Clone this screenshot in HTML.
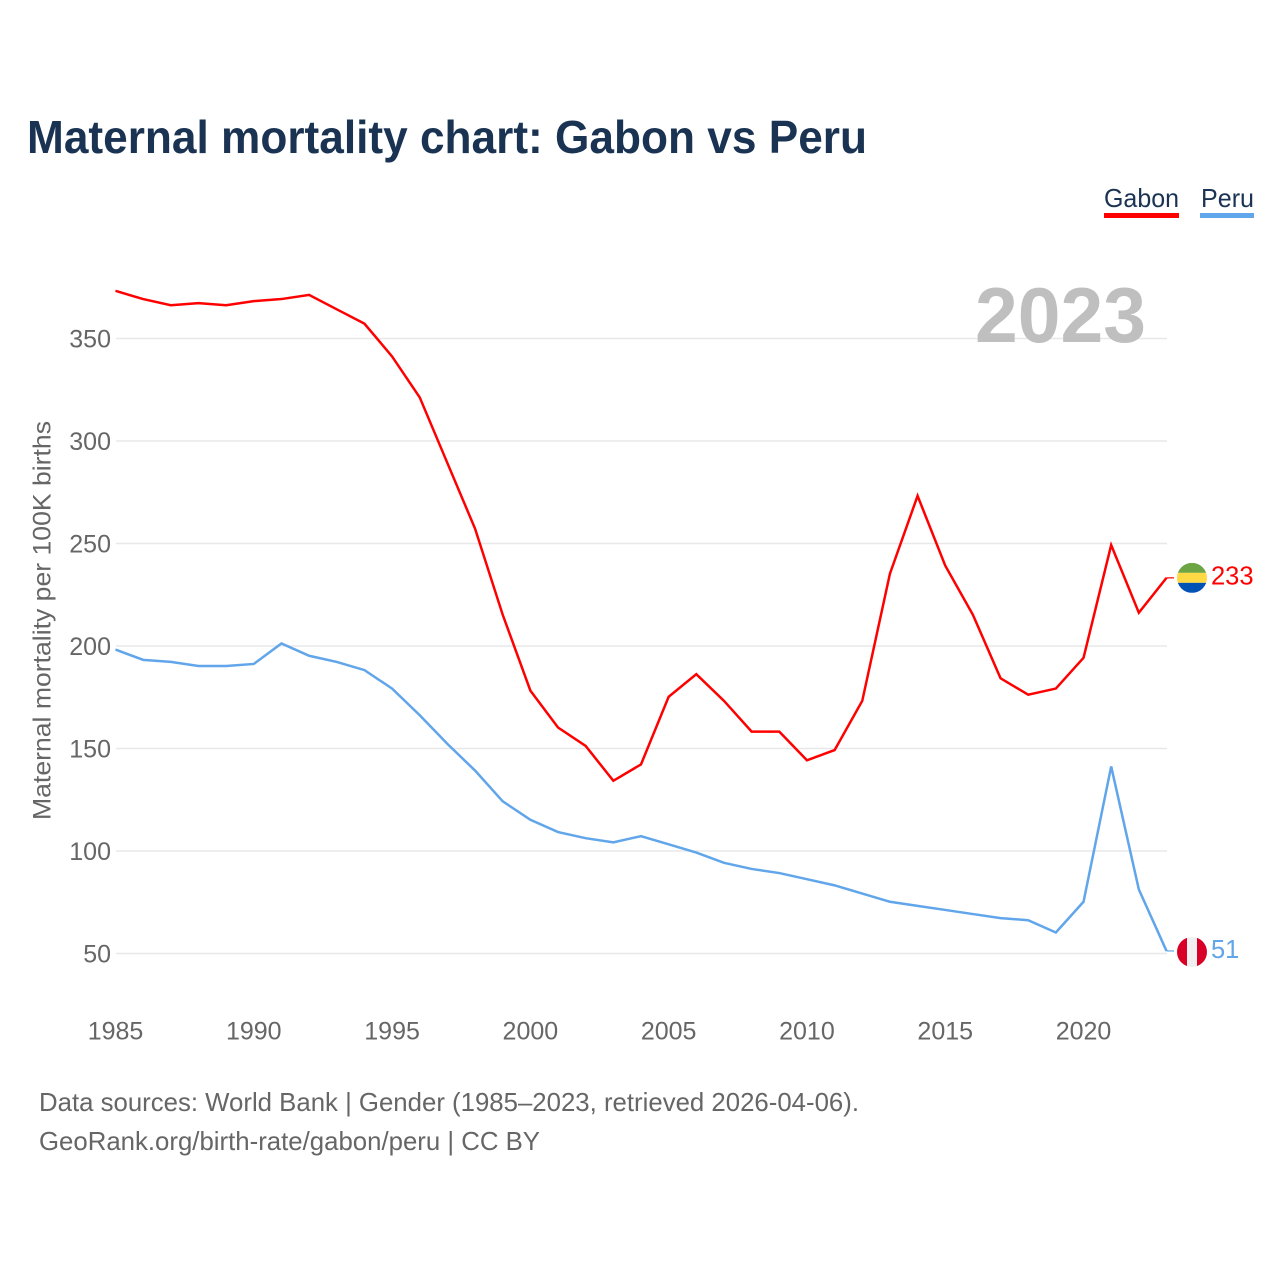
<!DOCTYPE html>
<html lang="en">
<head>
<meta charset="utf-8">
<title>Maternal mortality chart: Gabon vs Peru</title>
<style>
html,body{margin:0;padding:0;background:#fff;}
svg{display:block;font-family:"Liberation Sans",sans-serif;}
</style>
</head>
<body>
<svg id="chart" width="1280" height="1280" viewBox="0 0 1280 1280" xmlns="http://www.w3.org/2000/svg">
  <defs>
    <clipPath id="flag-clip-gabon"><circle cx="1192" cy="0" r="15"></circle></clipPath>
    <clipPath id="flag-clip-peru"><circle cx="1192" cy="0" r="15"></circle></clipPath>
  </defs>
  <rect width="1280" height="1280" fill="#ffffff"></rect>
  <text x="27" y="153" font-size="46" font-weight="700" fill="#1a3353" textLength="840" lengthAdjust="spacingAndGlyphs">Maternal mortality chart: Gabon vs Peru</text>

  <text x="1104" y="207" font-size="26" fill="#1a3353" textLength="75" lengthAdjust="spacingAndGlyphs">Gabon</text>
  <rect x="1104" y="213" width="75" height="5" fill="#ff0000"></rect>
  <text x="1201" y="207" font-size="26" fill="#1a3353" textLength="53" lengthAdjust="spacingAndGlyphs">Peru</text>
  <rect x="1200" y="213" width="54" height="5" fill="#61a5ea"></rect>

  <g id="grid"></g>
  <text x="975" y="342" font-size="78" font-weight="700" fill="#bfbfbf" textLength="171" lengthAdjust="spacingAndGlyphs">2023</text>
  <g id="y-ticks"></g>
  <g id="x-ticks"></g>
  <text transform="translate(50.5,620.5) rotate(-90)" text-anchor="middle" font-size="25" fill="#666666" textLength="399" lengthAdjust="spacingAndGlyphs">Maternal mortality per 100K births</text>
  <g id="series"></g>
  <g id="ends"></g>

  <text x="39" y="1111" font-size="26" fill="#666666" textLength="820" lengthAdjust="spacingAndGlyphs">Data sources: World Bank | Gender (1985–2023, retrieved 2026-04-06).</text>
  <text x="39" y="1150" font-size="26" fill="#666666" textLength="501" lengthAdjust="spacingAndGlyphs">GeoRank.org/birth-rate/gabon/peru | CC BY</text>
</svg>
<script>
var years = [1985,1986,1987,1988,1989,1990,1991,1992,1993,1994,1995,1996,1997,1998,1999,2000,2001,2002,2003,2004,2005,2006,2007,2008,2009,2010,2011,2012,2013,2014,2015,2016,2017,2018,2019,2020,2021,2022,2023];
var gabonValues = [373,369,366,367,366,368,369,371,364,357,341,321,289,257,215,178,160,151,134,142,175,186,173,158,158,144,149,173,235,273,239,215,184,176,179,194,249,216,233];
var peruValues = [198,193,192,190,190,191,201,195,192,188,179,166,152,139,124,115,109,106,104,107,103,99,94,91,89,86,83,79,75,73,71,69,67,66,60,75,141,81,51];
var yTickValues = [50,100,150,200,250,300,350];
var xTickValues = [1985,1990,1995,2000,2005,2010,2015,2020];

var NS = 'http://www.w3.org/2000/svg';
function xScale(year) { return 115.5 + (year - 1985) * (1166.5 - 115.5) / 38; }
function yScale(value) { return 953.5 - (value - 50) * 2.05; }
function make(tag, attrs, parent) {
  var el = document.createElementNS(NS, tag);
  for (var k in attrs) el.setAttribute(k, attrs[k]);
  parent.appendChild(el);
  return el;
}

var gridGroup = document.getElementById('grid');
var yTickGroup = document.getElementById('y-ticks');
yTickValues.forEach(function (v) {
  var line = make('line', {x1: 116, x2: 1167, y1: yScale(v), y2: yScale(v), stroke: '#e8e8e8', 'stroke-width': 1.5}, gridGroup);
  
  
  var label = make('text', {x: 111, y: yScale(v) + 9, 'text-anchor': 'end', 'font-size': 25, fill: '#666666'}, yTickGroup);
  label.textContent = v;
  
  
});

var xTickGroup = document.getElementById('x-ticks');
xTickValues.forEach(function (y) {
  var label = make('text', {x: xScale(y), y: 1039.5, 'text-anchor': 'middle', 'font-size': 25, fill: '#666666'}, xTickGroup);
  label.textContent = y;
  
  
});

function seriesPoints(values) {
  return values.map(function (v, i) {
    return xScale(years[i]).toFixed(2) + ',' + (yScale(v) - 0.5).toFixed(2);
  }).join(' ');
}

var seriesGroup = document.getElementById('series');
var gabonLine = make('polyline', {points: seriesPoints(gabonValues), fill: 'none', stroke: '#ff0000', 'stroke-width': 2.5, 'stroke-linejoin': 'miter'}, seriesGroup);


var peruLine = make('polyline', {points: seriesPoints(peruValues), fill: 'none', stroke: '#61a5ea', 'stroke-width': 2.5, 'stroke-linejoin': 'miter'}, seriesGroup);



var endsGroup = document.getElementById('ends');
var gabonLast = gabonValues[gabonValues.length - 1];
var peruLast = peruValues[peruValues.length - 1];
var gy = yScale(gabonLast) - 0.5;
var py = yScale(peruLast) - 0.5;

var gabonLead = make('line', {x1: 1166.5, x2: 1174, y1: gy, y2: gy, stroke: '#ff0000', 'stroke-width': 1.2}, endsGroup);


var peruLead = make('line', {x1: 1166.5, x2: 1174, y1: py, y2: py, stroke: '#61a5ea', 'stroke-width': 1.2}, endsGroup);



document.querySelector('#flag-clip-gabon circle').setAttribute('cy', gy);
document.querySelector('#flag-clip-peru circle').setAttribute('cy', py + 1);

var gabonFlag = make('g', {'clip-path': 'url(#flag-clip-gabon)'}, endsGroup);


make('rect', {x: 1177, y: gy - 15, width: 30, height: 10, fill: '#6da544'}, gabonFlag);
make('rect', {x: 1177, y: gy - 5, width: 30, height: 10, fill: '#ffda44'}, gabonFlag);
make('rect', {x: 1177, y: gy + 5, width: 30, height: 10, fill: '#0052b4'}, gabonFlag);

var peruFlag = make('g', {'clip-path': 'url(#flag-clip-peru)'}, endsGroup);


make('rect', {x: 1177, y: py - 14, width: 10, height: 30, fill: '#d80027'}, peruFlag);
make('rect', {x: 1187, y: py - 14, width: 10, height: 30, fill: '#f0f0f0'}, peruFlag);
make('rect', {x: 1197, y: py - 14, width: 10, height: 30, fill: '#d80027'}, peruFlag);

var gabonValueLabel = make('text', {x: 1211, y: gy + 6.5, 'font-size': 25.5, fill: '#ff0000'}, endsGroup);
gabonValueLabel.textContent = gabonLast;


var peruValueLabel = make('text', {x: 1211, y: py + 7, 'font-size': 25.5, fill: '#61a5ea'}, endsGroup);
peruValueLabel.textContent = peruLast;


</script>
</body>
</html>
